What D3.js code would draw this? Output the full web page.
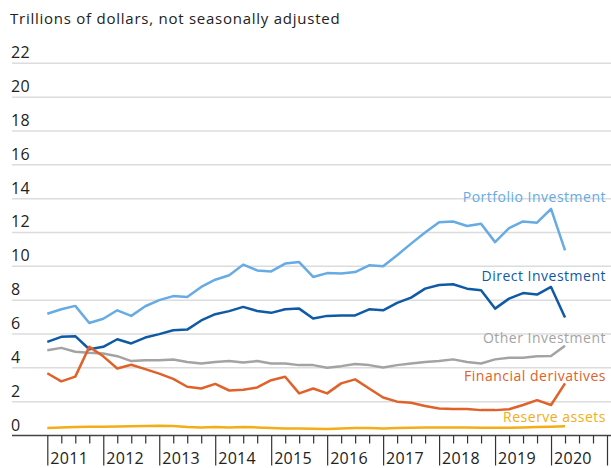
<!DOCTYPE html>
<html>
<head>
<meta charset="utf-8">
<script src="https://cdn.jsdelivr.net/npm/d3@7"></script>
<style>
  body { margin: 0; background: #fff; }
  text { font-family: "Open Sans", sans-serif; }
</style>
</head>
<body>
<div id="chart"></div>
<script>
// quarterly values, 2011 Q1 .. 2020 Q2
const years = [2011, 2012, 2013, 2014, 2015, 2016, 2017, 2018, 2019, 2020];
const yTicks = [0, 2, 4, 6, 8, 10, 12, 14, 16, 18, 20, 22];

const portfolio = [7.2, 7.46, 7.66, 6.65, 6.9, 7.4, 7.07, 7.64, 8.0, 8.24, 8.19, 8.78, 9.21, 9.47, 10.1, 9.76, 9.7, 10.16, 10.25,
  9.37, 9.6, 9.57, 9.66, 10.06, 10.0, 10.65, 11.34, 12.0, 12.6, 12.65, 12.38, 12.52, 11.43, 12.26, 12.65, 12.58, 13.4, 10.94];
const direct = [5.53, 5.83, 5.87, 5.1, 5.24, 5.69, 5.44, 5.79, 5.99, 6.22, 6.26, 6.8, 7.17, 7.35, 7.6, 7.36, 7.25, 7.46, 7.5,
  6.91, 7.07, 7.1, 7.1, 7.46, 7.4, 7.84, 8.15, 8.68, 8.9, 8.94, 8.68, 8.58, 7.5, 8.09, 8.42, 8.33, 8.78, 6.98];
const other = [5.04, 5.18, 4.95, 4.89, 4.85, 4.69, 4.4, 4.45, 4.45, 4.49, 4.35, 4.26, 4.35, 4.4, 4.32, 4.4, 4.26, 4.26, 4.16,
  4.16, 4.0, 4.1, 4.22, 4.16, 4.02, 4.16, 4.26, 4.35, 4.4, 4.5, 4.35, 4.26, 4.5, 4.6, 4.6, 4.69, 4.7, 5.3];
const derivatives = [3.68, 3.2, 3.48, 5.24, 4.68, 3.96, 4.18, 3.92, 3.66, 3.35, 2.88, 2.78, 3.05, 2.66, 2.7, 2.84, 3.27, 3.47, 2.49,
  2.78, 2.49, 3.08, 3.32, 2.78, 2.25, 2.0, 1.94, 1.74, 1.6, 1.56, 1.56, 1.5, 1.5, 1.55, 1.8, 2.09, 1.8, 3.08];
const reserve = [0.45, 0.48, 0.5, 0.52, 0.52, 0.53, 0.55, 0.56, 0.58, 0.56, 0.5, 0.48, 0.5, 0.48, 0.5, 0.48, 0.45, 0.42, 0.42,
  0.4, 0.38, 0.42, 0.45, 0.44, 0.42, 0.45, 0.46, 0.48, 0.48, 0.48, 0.47, 0.46, 0.46, 0.46, 0.48, 0.5, 0.52, 0.55];

const seriesNames = ["Portfolio Investment", "Direct Investment", "Other Investment", "Financial derivatives", "Reserve assets"];
const seriesValues = [portfolio, direct, other, derivatives, reserve];
const colors = ["#66abe4", "#0f5aa6", "#a3a3a3", "#e0622a", "#f3ad17"];
const labelY = [197, 276, 338, 376, 417];

const width = 611, height = 468;

const svg = d3.select("#chart").append("svg")
    .attr("width", width)
    .attr("height", height);

const x = d3.scaleLinear().domain([2011, 2021]).range([47.3, 607]);
const y = d3.scaleLinear().domain([0, 22]).range([435.5, 63.3]);

// title
svg.append("text")
    .attr("x", 10)
    .attr("y", 24)
    .style("font-size", "15px")
    .style("letter-spacing", "0.75px")
    .attr("fill", "#222")
    .text("Trillions of dollars, not seasonally adjusted");

// gridlines + y labels
const grid = svg.append("g");
grid.selectAll("line")
  .data(yTicks.filter(d => d > 0))
  .join("line")
    .attr("x1", 12)
    .attr("x2", width)
    .attr("y1", d => y(d))
    .attr("y2", d => y(d))
    .attr("stroke", "#dcdcdc")
    .attr("stroke-width", 1.5);

grid.selectAll("text")
  .data(yTicks)
  .join("text")
    .attr("x", 11)
    .attr("y", d => y(d) - 5)
    .style("font-size", "16px")
    .style("letter-spacing", "0.3px")
    .attr("fill", "#222")
    .text(d => d);

// x axis: quarter ticks and year ticks
const quarters = d3.range(2011, 2021.01, 0.25);
const axisG = svg.append("g")
    .attr("transform", `translate(0,${y(0)})`);

axisG.append("line")
    .attr("x1", 12)
    .attr("x2", width)
    .attr("stroke", "#444")
    .attr("stroke-width", 1.5);

axisG.append("g")
    .call(d3.axisBottom(x).tickValues(quarters.filter(q => q % 1 !== 0)).tickSize(8).tickFormat(""))
    .call(g => g.select(".domain").remove())
    .selectAll("line").attr("stroke", "#333").attr("stroke-width", 1.2);

axisG.append("g")
    .call(d3.axisBottom(x).tickValues(d3.range(2011, 2022)).tickSize(30).tickFormat(""))
    .call(g => g.select(".domain").remove())
    .selectAll("line").attr("stroke", "#333").attr("stroke-width", 1.2);

axisG.selectAll(".yearlab")
  .data(years)
  .join("text")
    .attr("class", "yearlab")
    .attr("x", d => x(d) + 3)
    .attr("y", 28)
    .style("font-size", "16px")
    .style("letter-spacing", "0.3px")
    .attr("fill", "#222")
    .text(d => d);

// lines
const line = d3.line()
    .x((d, i) => x(2011 + i / 4))
    .y(d => y(d));

svg.append("g")
  .selectAll("path")
  .data(seriesValues)
  .join("path")
    .attr("d", d => line(d))
    .attr("fill", "none")
    .attr("stroke", (d, i) => colors[i])
    .attr("stroke-width", 2.5)
    .attr("stroke-linejoin", "round");

// labels
svg.append("g")
  .selectAll("text")
  .data(seriesNames)
  .join("text")
    .attr("x", 606)
    .attr("y", (d, i) => labelY[i])
    .attr("dy", "0.35em")
    .attr("text-anchor", "end")
    .style("font-size", "14px")
    .style("letter-spacing", "0.5px")
    .attr("fill", (d, i) => colors[i])
    .text(d => d);
</script>
</body>
</html>
